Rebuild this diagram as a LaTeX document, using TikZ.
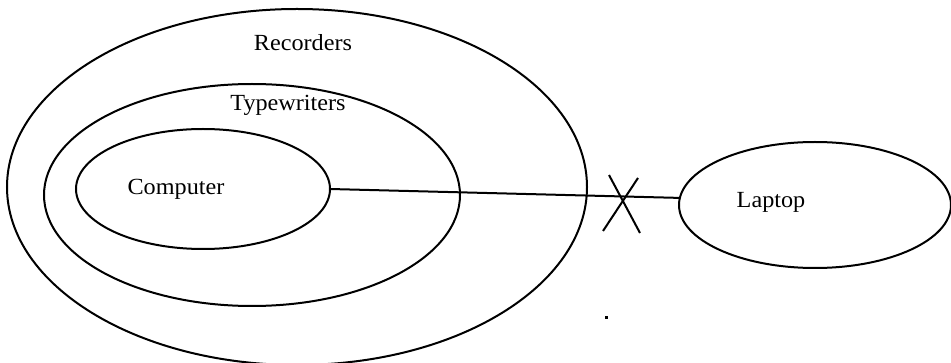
\documentclass[tikz,border=0pt]{standalone}
\usepackage{fontspec}
\setmainfont{Liberation Serif}
\usetikzlibrary{shapes.geometric}
\tikzset{
  set/.style={draw, ellipse, line width=2pt, inner sep=0pt, outer sep=0pt},
  lbl/.style={inner sep=0pt, font=\fontsize{22}{26}\selectfont},
  link/.style={line width=2pt}
}
\newcommand{\wtxt}[1]{\scalebox{1.1}[1.05]{#1}}
\begin{document}
\begin{tikzpicture}[x=1pt,y=-1pt]
\useasboundingbox (0,0) rectangle (951,363);
\node[set, minimum width=580pt, minimum height=356pt] (rec) at (297,187) {};
\node[set, minimum width=416pt, minimum height=222pt] (typ) at (252,195) {};
\node[set, minimum width=254pt, minimum height=120pt] (comp) at (203,189) {};
\node[set, minimum width=272pt, minimum height=126pt] (lap) at (815,205) {};
\node[lbl] (trec) at (303,43) {\wtxt{Recorders}};
\node[lbl] (ttyp) at (288,105) {\wtxt{Typewriters}};
\node[lbl] (tcomp) at (176,189) {\wtxt{Computer}};
\node[lbl] (tlap) at (771,202) {\wtxt{Laptop}};
\draw[link] (comp.east) -- (lap.177);
\draw[link] (609,175) -- (640,233);
\draw[link] (638,178) -- (603,231);
\fill (605,316) rectangle (608,319);
\end{tikzpicture}
\end{document}
